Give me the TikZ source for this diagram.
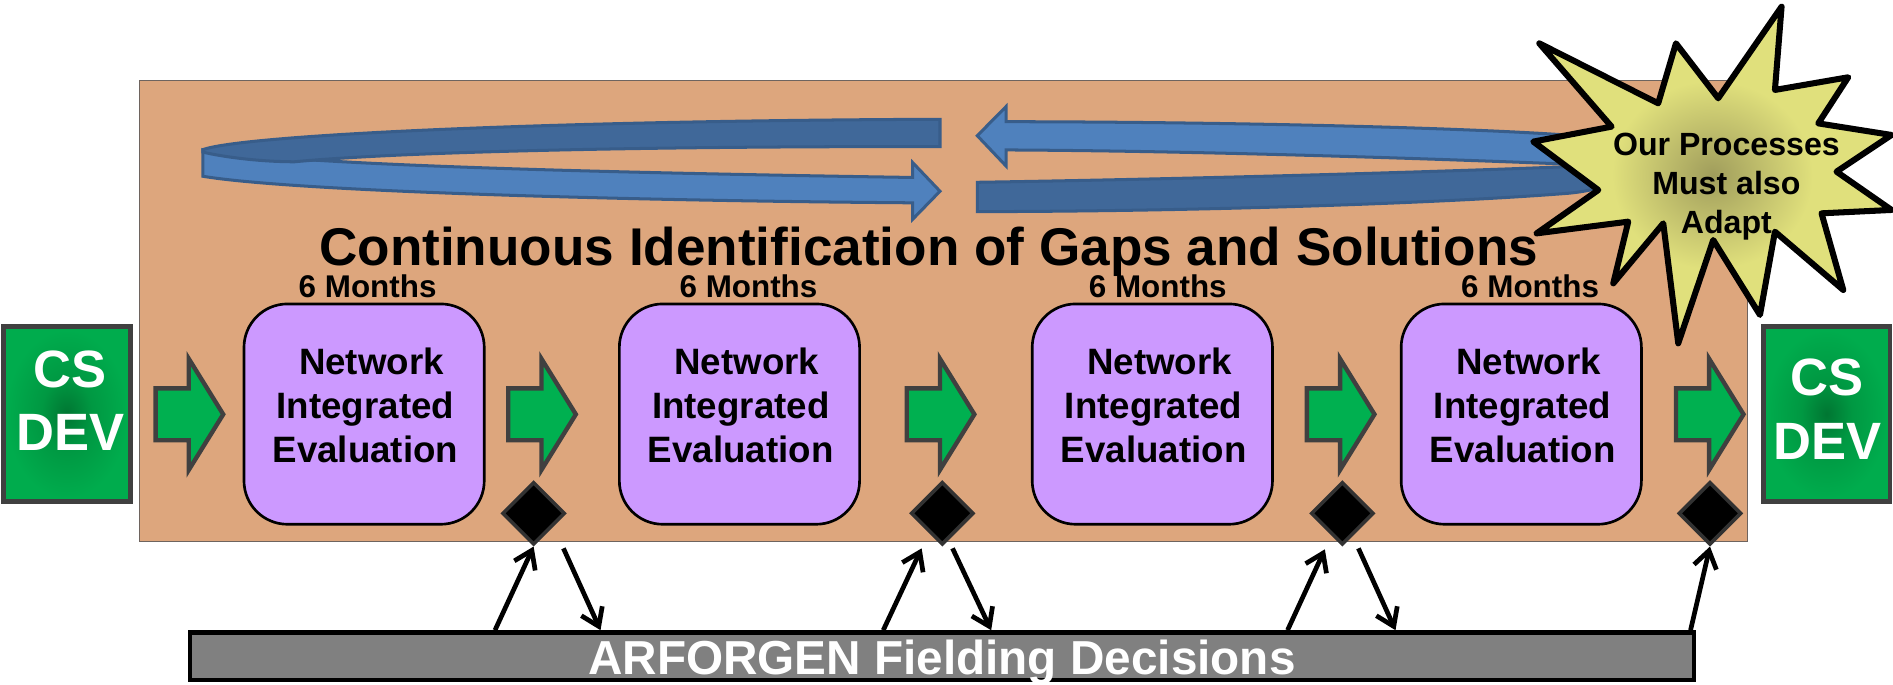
\documentclass[tikz,border=0pt]{standalone}
\usepackage{fontspec}
\setmainfont{Liberation Sans}
\usetikzlibrary{shapes.geometric,arrows.meta,calc}

\definecolor{orangebg}{RGB}{221,166,125}
\definecolor{orangeln}{RGB}{110,100,95}
\definecolor{purplebox}{RGB}{204,153,255}
\definecolor{greenarr}{RGB}{0,176,80}
\definecolor{darkgrayln}{RGB}{64,64,64}
\definecolor{ringlight}{RGB}{79,129,189}
\definecolor{ringdark}{RGB}{64,104,153}
\definecolor{ringline}{RGB}{56,93,138}
\definecolor{bargray}{RGB}{128,128,128}
\definecolor{starC}{RGB}{160,157,92}
\definecolor{starL}{RGB}{224,224,124}
\definecolor{greenD}{RGB}{0,118,50}
\definecolor{greenM}{RGB}{0,152,66}
\definecolor{greenL}{RGB}{0,172,77}
\definecolor{diamondln}{RGB}{50,50,50}

\pgfdeclareradialshading{starrad}{\pgfpoint{0bp}{0bp}}{color(0bp)=(starC); color(14bp)=(starL); color(50bp)=(starL)}
\pgfdeclareradialshading{greenrad}{\pgfpoint{0bp}{0bp}}{color(0bp)=(greenD); color(10bp)=(greenM); color(24bp)=(greenL); color(50bp)=(greenL)}

\tikzset{
  evalbox/.style={draw=black, line width=2.2pt, fill=purplebox, rounded corners=36pt,
    minimum width=199pt, minimum height=182.5pt, inner sep=0pt},
  evaltext/.style={align=center, font=\fontsize{30.4pt}{36.5pt}\selectfont\bfseries, inner sep=0pt},
  months/.style={anchor=base, font=\fontsize{26pt}{30pt}\selectfont\bfseries, inner sep=0pt},
  csbox/.style={draw=darkgrayln, line width=4pt, shade, shading=greenrad,
    minimum width=105pt, minimum height=145pt, inner sep=0pt},
  cstext/.style={align=center, text=white, font=\fontsize{43.5pt}{52.5pt}\selectfont\bfseries, inner sep=0pt},
  decision/.style={shape=diamond, aspect=1, fill=black, draw=diamondln, line width=3pt,
    minimum width=52pt, minimum height=52pt, inner sep=0pt},
  garrowsty/.style={fill=greenarr, draw=darkgrayln, line width=3.6pt, line join=miter},
  ringfront/.style={fill=ringlight, draw=ringline, line width=2.5pt, line join=miter},
  ringtop/.style={fill=ringdark, draw=ringline, line width=2.5pt, line join=miter},
  conn/.style={line width=3.9pt, -{Straight Barb[length=14pt,width=19pt]}},
}

\newcommand\greenarrow[2]{%
  \draw[garrowsty] (#1,#2) ++(0,-21.5) -- ++(27.5,0) -- ++(0,-24.5) -- ++(28.5,46)
    -- ++(-28.5,46) -- ++(0,-24.5) -- ++(-27.5,0) -- cycle;}

\begin{document}
\begin{tikzpicture}[x=1pt,y=-1pt]
\useasboundingbox (0,0) rectangle (1568,567);
\fill[white] (0,0) rectangle (1568,567);

% background panel
\draw[fill=orangebg, draw=orangeln, line width=1pt] (115.4,67) rectangle (1447.5,448.6);

% ring: left part
\path[ringfront] (168,124) -- (168,146) .. controls (240,158) and (500,166) .. (756,168)
  -- (756,181.6) -- (778.6,158.4) -- (756,134.7) -- (756,147)
  .. controls (500,143) and (250,137) .. (168,124) -- cycle;
\path[ringtop] (778.6,98.8) -- (778.6,121.5) .. controls (600,121) and (350,124) .. (244,134)
  .. controls (215,134) and (185,130) .. (168,126) -- (168,124)
  .. controls (200,112) and (450,100) .. (778.6,98.8) -- cycle;
% ring: right part
\path[ringtop] (809.5,151) -- (809.5,175.3) .. controls (1000,175) and (1200,168) .. (1300,160)
  .. controls (1350,155) and (1350,136) .. (1300,138)
  .. controls (1200,142) and (1000,148) .. (809.5,151) -- cycle;
\path[ringfront] (809.5,112.4) -- (833.3,88.3) -- (833.3,100.8)
  .. controls (1000,101) and (1200,105) .. (1300,112)
  .. controls (1340,116) and (1350,138) .. (1300,136)
  .. controls (1200,132) and (1000,125) .. (833.3,124.2) -- (833.3,137.5) -- cycle;

% star
\path[draw=black, line width=5pt, line join=round, shade, shading=starrad]
  (1275,35.9) -- (1373.5,85.6) -- (1388.2,35.9) -- (1423.2,81.4) -- (1475.7,5.5)
  -- (1470.2,74.5) -- (1530.9,64) -- (1506.1,102.2) -- (1566.8,111.8) -- (1521.2,142.2)
  -- (1566.8,173.9) -- (1508.8,176.7) -- (1526.8,240.2) -- (1470.2,191.9) -- (1457.8,260.9)
  -- (1419.1,198.8) -- (1390.1,284.4) -- (1377.7,185) -- (1336.3,234.7) -- (1348.7,183.6)
  -- (1272.8,193.3) -- (1323.9,157.4) -- (1270,117.3) -- (1334.9,104.9) -- cycle;
\node[align=center, inner sep=0pt, font=\fontsize{26.6pt}{32pt}\selectfont\bfseries] (startext)
  at (1430,154.5) {Our Processes\\Must also\\Adapt};

% title
\node[anchor=base, inner sep=0pt, font=\fontsize{44pt}{52pt}\selectfont\bfseries] (title)
  at (769.2,220) {Continuous Identification of Gaps and Solutions};

% evaluation boxes
\node[evalbox] (e1) at (301.6,343) {};
\node[evalbox] (e2) at (612.5,343) {};
\node[evalbox] (e3) at (954.5,343) {};
\node[evalbox] (e4) at (1260.1,343) {};
\node[evaltext] (e1t) at (302.7,336.1) {\hspace*{10pt}Network\\Integrated\\Evaluation};
\node[evaltext] (e2t) at (613.6,336.1) {\hspace*{10pt}Network\\Integrated\\Evaluation};
\node[evaltext] (e3t) at (955.6,336.1) {\hspace*{10pt}Network\\Integrated\\Evaluation};
\node[evaltext] (e4t) at (1261.2,336.1) {\hspace*{10pt}Network\\Integrated\\Evaluation};

\node[months] (m1) at (304.5,246.5) {6 Months};
\node[months] (m2) at (620,246.5) {6 Months};
\node[months] (m3) at (959,246.5) {6 Months};
\node[months] (m4) at (1267.4,246.5) {6 Months};

% green arrows
\greenarrow{128.9}{343.2}
\greenarrow{421}{343.2}
\greenarrow{751.1}{343.2}
\greenarrow{1082.5}{343.2}
\greenarrow{1388.2}{343.2}

% decision diamonds
\node[decision] (d1) at (442,425.2) {};
\node[decision] (d2) at (780.5,425.2) {};
\node[decision] (d3) at (1111.9,425.2) {};
\node[decision] (d4) at (1416.4,425.2) {};

% CS DEV boxes
\node[csbox] (csl) at (55.3,343) {};
\node[cstext] (cslt) at (58.3,332) {CS\\DEV};
\node[csbox] (csr) at (1513,343) {};
\node[cstext] (csrt) at (1513.6,338.9) {CS\\DEV};

% fielding bar
\node[draw=black, line width=3.6pt, fill=bargray, minimum width=1245.8pt, minimum height=39pt,
  inner sep=0pt] (bar) at (780.1,543.5) {};
\node[anchor=base, inner sep=0pt, text=white, font=\fontsize{39.5pt}{46pt}\selectfont\bfseries]
  (bartext) at (780.2,558.5) {ARFORGEN Fielding Decisions};

% connectors
\coordinate (u1) at (410,522);    \coordinate (v1) at (466.7,454.2);  \coordinate (w1) at (497.4,522);
\coordinate (u2) at (731.6,522);  \coordinate (t2) at (763.4,454.2);  \coordinate (v2) at (789,454.2);   \coordinate (w2) at (821,522);
\coordinate (u3) at (1066.5,522); \coordinate (t3) at (1097.4,455);   \coordinate (v3) at (1125.2,454.2); \coordinate (w3) at (1155.9,522);
\coordinate (u4) at (1400.3,522);

\draw[conn] (u1) -- (d1.south);
\draw[conn] (v1) -- (w1);
\draw[conn] (u2) -- (t2);
\draw[conn] (v2) -- (w2);
\draw[conn] (u3) -- (t3);
\draw[conn] (v3) -- (w3);
\draw[conn] (u4) -- (d4.south);
\end{tikzpicture}
\end{document}
